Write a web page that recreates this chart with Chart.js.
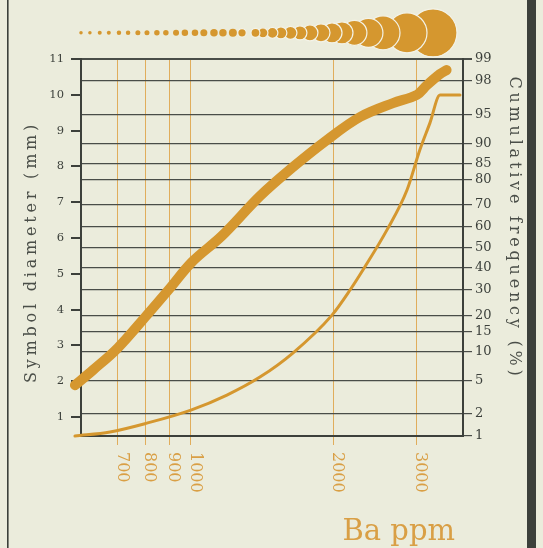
<!DOCTYPE html>
<html>
<head>
<meta charset="utf-8">
<script src="https://cdn.jsdelivr.net/npm/chart.js@4.4.1/dist/chart.umd.min.js"></script>
<style>
html,body{margin:0;padding:0;background:#ebecdc;}
#wrap{width:543px;height:548px;position:relative;}
</style>
</head>
<body>
<div id="wrap"><canvas id="c" width="543" height="548"></canvas></div>
<script>
// ---------------- DATA ----------------
// Thick curve: symbol diameter (mm) vs Ba (ppm)
const diameterBa = [568, 620, 700, 807, 903, 1005, 1163, 1400, 1644, 1942, 2281, 2679, 3011, 3162, 3370, 3480];
const diameterMm = [1.89, 2.31, 2.93, 3.85, 4.60, 5.33, 6.06, 7.17, 7.98, 8.74, 9.38, 9.77, 10.0, 10.27, 10.58, 10.69];

// Thin curve: cumulative frequency (%) vs Ba (ppm)
const cumulativeBa = [568, 674, 807, 1000, 1192, 1400, 1644, 1990, 2173, 2335, 2602, 2869, 3055, 3209, 3370, 3715];
const cumulativePct = [1.0, 1.14, 1.51, 2.24, 3.43, 5.49, 9.64, 20.2, 30.0, 40.5, 58.6, 76.1, 88.6, 93.8, 97.0, 97.0];

// Legend row of symbols above the plot: Ba value and symbol diameter (mm)
const symbolBa = [585, 611, 641, 670, 704, 736, 772, 807, 847, 885, 930, 971, 1020, 1065, 1119, 1169, 1227, 1283,
                  1370, 1421, 1488, 1551, 1625, 1702, 1787, 1886, 1990, 2089, 2220, 2377, 2552, 2869, 3257];
const symbolMm = [0.80, 0.80, 0.92, 0.92, 1.03, 1.03, 1.15, 1.15, 1.26, 1.26, 1.38, 1.49, 1.49, 1.61, 1.72, 1.72, 1.83, 1.95,
                  2.06, 2.29, 2.52, 2.75, 2.98, 3.21, 3.67, 4.13, 4.59, 5.05, 5.73, 6.65, 7.80, 9.17, 11.0];

// Tick labels
const xTickValues = [700, 800, 900, 1000, 2000, 3000];
const leftTickValues = [1, 2, 3, 4, 5, 6, 7, 8, 9, 10, 11];
const rightTickPct = [1, 2, 5, 10, 15, 20, 30, 40, 50, 60, 70, 80, 85, 90, 95, 98, 99];

const xTitle = 'Ba ppm';
const leftTitle = 'Symbol diameter (mm)';
const rightTitle = 'Cumulative frequency (%)';

// ---------------- STYLE ----------------
const BG = '#ebecdc';
const DARK = '#3c403b';
const ORANGE = '#d5972f';
const ORANGE_LIGHT = '#e0ad5c';
const ORANGE_TEXT = '#d99f45';

// inverse normal CDF (probability-paper axis)
function probit(p) {
  const a=[-3.969683028665376e+01,2.209460984245205e+02,-2.759285104469687e+02,1.383577518672690e+02,-3.066479806614716e+01,2.506628277459239e+00];
  const b=[-5.447609879822406e+01,1.615858368580409e+02,-1.556989798598866e+02,6.680131188771972e+01,-1.328068155288572e+01];
  const c=[-7.784894002430293e-03,-3.223964580411365e-01,-2.400758277161838e+00,-2.549732539343734e+00,4.374664141464968e+00,2.938163982698783e+00];
  const d=[7.784695709041462e-03,3.224671290700398e-01,2.445134137142996e+00,3.754408661907416e+00];
  const pl=0.02425, ph=1-pl; let q, r;
  if (p < pl) { q=Math.sqrt(-2*Math.log(p)); return (((((c[0]*q+c[1])*q+c[2])*q+c[3])*q+c[4])*q+c[5])/((((d[0]*q+d[1])*q+d[2])*q+d[3])*q+1); }
  if (p > ph) { q=Math.sqrt(-2*Math.log(1-p)); return -(((((c[0]*q+c[1])*q+c[2])*q+c[3])*q+c[4])*q+c[5])/((((d[0]*q+d[1])*q+d[2])*q+d[3])*q+1); }
  q=p-0.5; r=q*q;
  return (((((a[0]*r+a[1])*r+a[2])*r+a[3])*r+a[4])*r+a[5])*q/(((((b[0]*r+b[1])*r+b[2])*r+b[3])*r+b[4])*r+1);
}

const PX_PER_MM_SYMBOL = 4.36;
const SYMBOL_ROW_Y = 11.73;

const diameterPoints = diameterBa.map((x, i) => ({x, y: diameterMm[i]}));
const cumulativePoints = cumulativeBa.map((x, i) => ({x, y: probit(cumulativePct[i] / 100)}));
// right-most first so that left symbols overlap right ones
const symbolPoints = symbolBa.map((x, i) => ({x, y: SYMBOL_ROW_Y, r: symbolMm[i] * PX_PER_MM_SYMBOL / 2})).reverse();

const deco = {
  id: 'deco',
  beforeDraw(chart) {
    const ctx = chart.ctx;
    ctx.save();
    ctx.fillStyle = BG;
    ctx.fillRect(0, 0, chart.width, chart.height);
    ctx.fillStyle = DARK;
    ctx.fillRect(7, 0, 1.6, chart.height);
    ctx.fillRect(527, 0, 9, chart.height);
    ctx.restore();
  },
  // let the symbol row (above the plot area) be drawn
  beforeDatasetDraw(chart, args) {
    if (args.index === 0) {
      chart._savedArea = chart.chartArea;
      chart.chartArea = {left: 0, top: 0, right: chart.width, bottom: chart.height, width: chart.width, height: chart.height};
    }
  },
  afterDatasetDraw(chart, args) {
    if (args.index === 0 && chart._savedArea) {
      chart.chartArea = chart._savedArea;
      chart._savedArea = null;
    }
  },
  afterDraw(chart) {
    const ctx = chart.ctx, xs = chart.scales.x, area = chart.chartArea;
    ctx.save();
    // x tick labels (rotated clockwise)
    ctx.fillStyle = ORANGE_TEXT;
    ctx.font = '16px "DejaVu Serif"';
    ctx.textAlign = 'left';
    ctx.textBaseline = 'alphabetic';
    xTickValues.forEach(v => {
      const px = xs.getPixelForValue(v);
      ctx.save();
      ctx.translate(px, area.bottom + 16);
      ctx.rotate(Math.PI / 2);
      ctx.fillText(String(v), 0, 0);
      ctx.restore();
    });
    // x title
    ctx.font = '29px "DejaVu Serif"';
    ctx.textAlign = 'right';
    ctx.fillText(xTitle, 455, 540);
    // y titles
    ctx.fillStyle = '#4a4e48';
    ctx.font = '16px "DejaVu Serif"';
    try { ctx.letterSpacing = '3.8px'; } catch (e) {}
    ctx.textAlign = 'center';
    ctx.textBaseline = 'middle';
    ctx.save();
    ctx.translate(32, 252);
    ctx.rotate(-Math.PI / 2);
    ctx.fillText(leftTitle, 0, 0);
    ctx.restore();
    ctx.save();
    ctx.translate(514, 228);
    ctx.rotate(Math.PI / 2);
    ctx.fillText(rightTitle, 0, 0);
    ctx.restore();
    try { ctx.letterSpacing = '0px'; } catch (e) {}
    ctx.restore();
  }
};

new Chart(document.getElementById('c'), {
  type: 'line',
  data: {
    datasets: [
      {
        type: 'bubble',
        data: symbolPoints,
        xAxisID: 'x', yAxisID: 'y',
        backgroundColor: ORANGE,
        borderColor: '#f3f3e8',
        borderWidth: c => (c.raw && c.raw.r < 4.2 ? 0 : 1.2),
        clip: false
      },
      {
        data: diameterPoints,
        xAxisID: 'x', yAxisID: 'y',
        borderColor: ORANGE,
        borderWidth: 10,
        borderCapStyle: 'round',
        borderJoinStyle: 'round',
        tension: 0.35,
        pointRadius: 0,
        clip: false
      },
      {
        data: cumulativePoints,
        xAxisID: 'x', yAxisID: 'y2',
        borderColor: ORANGE,
        borderWidth: 3,
        borderCapStyle: 'round',
        cubicInterpolationMode: 'monotone',
        pointRadius: 0,
        clip: false
      }
    ]
  },
  options: {
    responsive: false,
    animation: false,
    events: [],
    layout: { padding: { top: 59, left: 0, right: 0, bottom: 0 } },
    plugins: { legend: { display: false }, tooltip: { enabled: false } },
    scales: {
      x: {
        type: 'logarithmic',
        position: 'bottom',
        min: 585, max: 3770,
        afterBuildTicks: s => { s.ticks = xTickValues.map(v => ({value: v})); },
        afterFit: s => { s.height = 112; },
        ticks: { display: false },
        grid: { color: ORANGE_LIGHT, lineWidth: 1, tickLength: 9, drawTicks: true },
        border: { display: true, color: DARK, width: 2 }
      },
      y: {
        type: 'linear',
        position: 'left',
        min: 0.47, max: 11,
        afterBuildTicks: s => { s.ticks = leftTickValues.map(v => ({value: v})); },
        afterFit: s => { s.width = 81; },
        ticks: {
          color: DARK, padding: 7,
          font: { family: 'DejaVu Serif', size: 11.5 },
          callback: v => String(v)
        },
        grid: { drawOnChartArea: false, color: DARK, lineWidth: 2, tickLength: 10 },
        border: { display: true, color: DARK, width: 2 }
      },
      y2: {
        type: 'linear',
        position: 'right',
        min: probit(0.01), max: probit(0.99),
        afterBuildTicks: s => { s.ticks = rightTickPct.map(p => ({value: probit(p / 100)})); },
        afterFit: s => { s.width = 80; },
        ticks: {
          color: DARK, padding: 3,
          font: { family: 'DejaVu Serif', size: 13 },
          callback: (v, i) => String(rightTickPct[i])
        },
        grid: {
          color: '#494d48',
          lineWidth: c => (c.index === rightTickPct.length - 1 ? 2 : 1.2),
          tickLength: 9
        },
        border: { display: true, color: DARK, width: 2 }
      }
    }
  },
  plugins: [deco]
});
</script>
</body>
</html>
